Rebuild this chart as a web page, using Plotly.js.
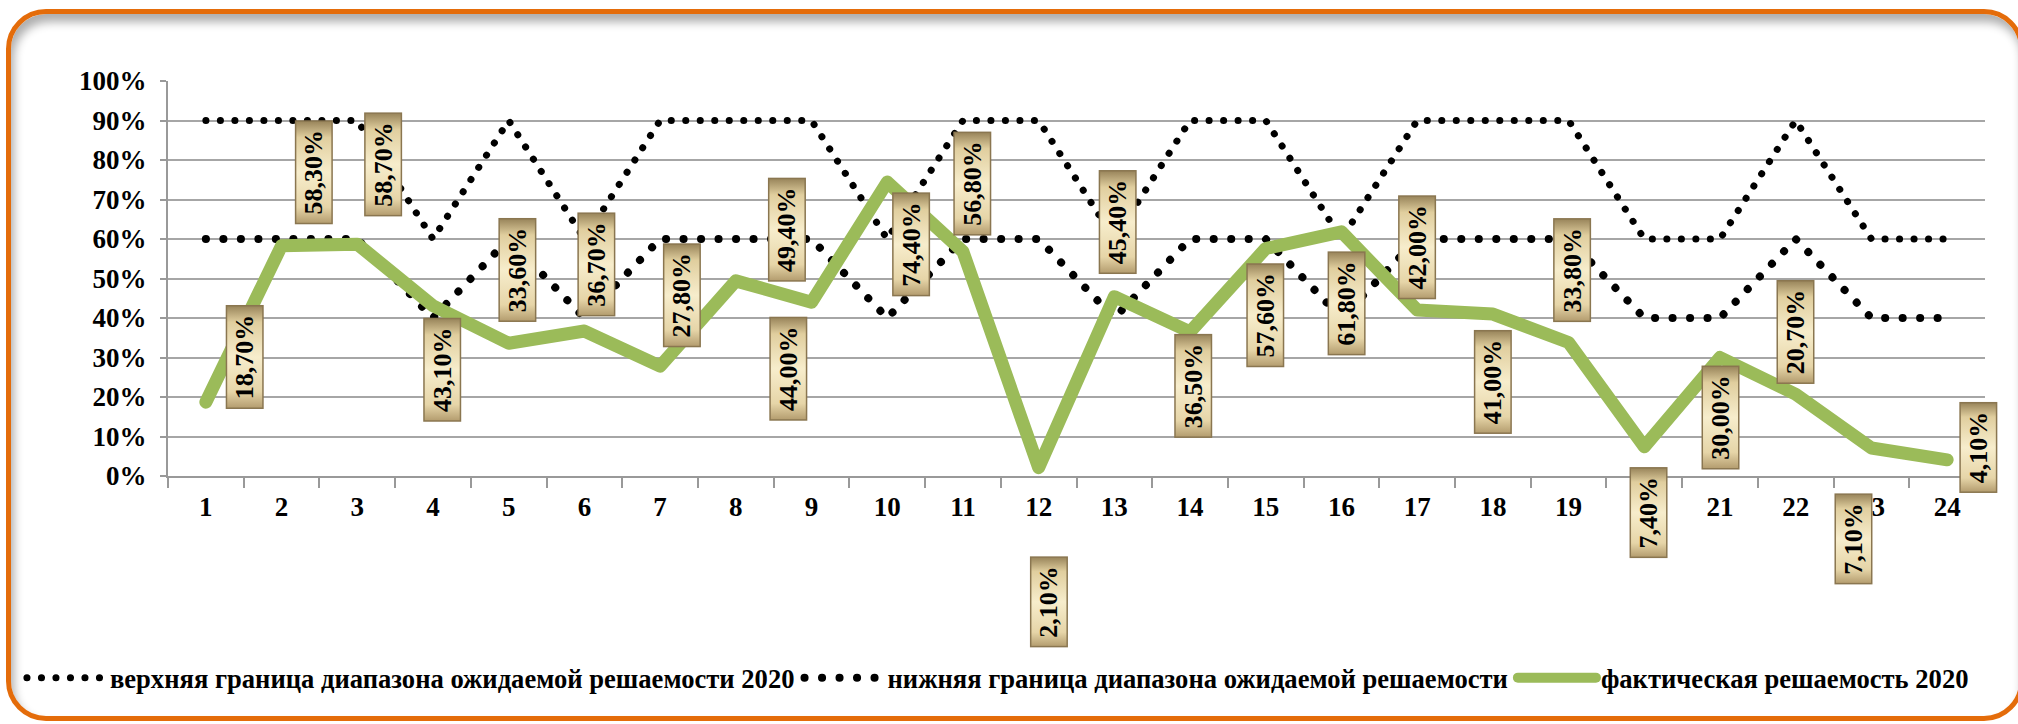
<!DOCTYPE html>
<html><head><meta charset="utf-8">
<script src="https://cdn.plot.ly/plotly-3.0.1.min.js"></script>
<style>
html,body{margin:0;padding:0;background:#fff;}
#wrap{position:relative;width:2018px;height:724px;overflow:hidden;background:#fff;}
#frame{position:absolute;left:6px;top:9px;width:2018px;height:712px;box-sizing:border-box;border:5px solid #E46C0A;border-radius:40px;box-shadow: inset 3px 8px 10px rgba(0,0,0,0.32);background:#fff;}
#chart{position:absolute;left:0;top:0;width:2018px;height:724px;}
</style></head><body>
<div id="wrap"><div id="frame"></div><div id="chart"></div></div>
<script>
const categories = ['1','2','3','4','5','6','7','8','9','10','11','12','13','14','15','16','17','18','19','20','21','22','23','24'];
const upperBound = [90,90,90,60,90,60,90,90,90,60,90,90,60,90,90,60,90,90,90,60,60,90,60,60];
const lowerBound = [60,60,60,40,60,40,60,60,60,40,60,60,40,60,60,40,60,60,60,40,40,60,40,40];
const actual = [18.7,58.3,58.7,43.1,33.6,36.7,27.8,49.4,44.0,74.4,56.8,2.1,45.4,36.5,57.6,61.8,42.0,41.0,33.8,7.4,30.0,20.7,7.1,4.1];
const seriesNames = ['верхняя граница диапазона ожидаемой решаемости 2020','нижняя граница диапазона ожидаемой решаемости','фактическая решаемость 2020'];

// label placement offsets (pixels) relative to the data point
const labelDX = [39,32,26,9,9,12,22,51,-23,24,9,10,3,3,0,5,0,0,4,4,0,0,-18,31];
const labelDY = [45,73,80,-64,73,67,71,51,-67,-62,68,-134,75,-54,-67,-71,63,-68,72,-66,-60,62,-91,12];

const FONT = 'Liberation Serif, Times New Roman, serif';
const toFrac = a => a.map(v => v / 100);
const fmt = v => '\u2009' + v.toFixed(2).replace('.', ',') + '%\u2009';

const traces = [
  {x: categories, y: toFrac(upperBound), name: seriesNames[0], type: 'scatter', mode: 'lines',
   line: {color: '#000', width: 7, dash: '0.1px,14.4px'}},
  {x: categories, y: toFrac(lowerBound), name: seriesNames[1], type: 'scatter', mode: 'lines',
   line: {color: '#000', width: 8, dash: '0.1px,17.4px'}},
  {x: categories, y: toFrac(actual), name: seriesNames[2], type: 'scatter', mode: 'lines',
   line: {color: '#9BBB59', width: 13}}
];

const annotations = actual.map((v, i) => ({
  x: i, y: v / 100, xref: 'x', yref: 'y', text: fmt(v), showarrow: false,
  textangle: -90, xshift: labelDX[i], yshift: labelDY[i],
  font: {family: FONT, size: 26, color: '#000', weight: 700},
  bgcolor: '#EBDDB2', bordercolor: '#8A7650', borderwidth: 1.5, borderpad: 3
}));

const layout = {
  width: 2018, height: 724,
  margin: {l: 168, r: 33, t: 81, b: 248},
  paper_bgcolor: 'rgba(0,0,0,0)', plot_bgcolor: 'rgba(0,0,0,0)',
  font: {family: FONT, size: 27, color: '#000', weight: 700},
  showlegend: true,
  legend: {orientation: 'h', x: -0.0804, xanchor: 'left', y: -0.511, yanchor: 'middle',
           font: {family: FONT, size: 26.6, color: '#000', weight: 700}, itemwidth: 78, bgcolor: 'rgba(0,0,0,0)'},
  xaxis: {type: 'category', range: [-0.5, 23.5], showgrid: false, showline: true, linecolor: '#999', linewidth: 2,
          ticks: 'outside', tickson: 'boundaries', ticklen: 10, tickcolor: '#999', tickwidth: 2,
          ticklabelstandoff: 6, tickfont: {family: FONT, size: 27, weight: 700}, zeroline: false},
  yaxis: {range: [0, 1], dtick: 0.1, tickformat: '.0%', showgrid: true, gridcolor: '#A6A6A6', gridwidth: 2,
          showline: true, linecolor: '#999', linewidth: 2, ticks: 'outside', ticklen: 6, tickcolor: '#999', tickwidth: 2,
          ticklabelstandoff: 8, tickfont: {family: FONT, size: 27, weight: 700}, zeroline: false},
  annotations: annotations
};

Plotly.newPlot('chart', traces, layout, {staticPlot: true}).then(gd => {
  const svg = gd.querySelector('svg.main-svg');
  const ns = 'http://www.w3.org/2000/svg';
  let defs = svg.querySelector('defs');
  if (!defs) { defs = document.createElementNS(ns, 'defs'); svg.insertBefore(defs, svg.firstChild); }
  const g = document.createElementNS(ns, 'linearGradient');
  g.setAttribute('id', 'goldbevel'); g.setAttribute('x1', '0'); g.setAttribute('y1', '0'); g.setAttribute('x2', '1'); g.setAttribute('y2', '0');
  [['0', '#B39C6E'], ['0.16', '#E6D5A8'], ['0.5', '#F7EDCC'], ['0.84', '#E0CE9E'], ['1', '#98845A']].forEach(([o, c]) => {
    const s = document.createElementNS(ns, 'stop'); s.setAttribute('offset', o); s.setAttribute('stop-color', c); g.appendChild(s);
  });
  defs.appendChild(g);
  gd.querySelectorAll('.annotation rect.bg').forEach(r => { r.style.fill = 'url(#goldbevel)'; });
  gd.querySelectorAll('path.js-line').forEach(p => { p.style.strokeLinecap = 'round'; p.style.strokeLinejoin = 'round'; });
});
</script>
</body></html>
